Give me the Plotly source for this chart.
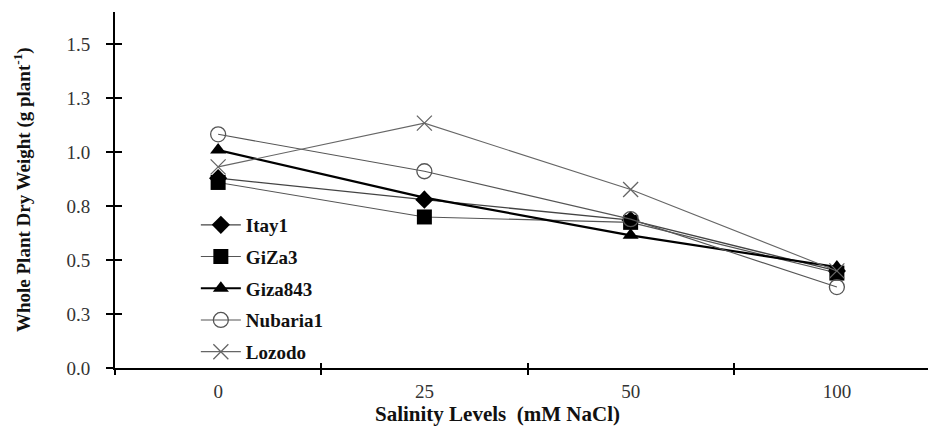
import plotly.graph_objects as go

salinity = ["0", "25", "50", "100"]
itay1 = [0.88, 0.78, 0.685, 0.45]
giza3 = [0.86, 0.70, 0.675, 0.44]
giza843 = [1.01, 0.79, 0.615, 0.468]
nubaria1 = [1.083, 0.912, 0.69, 0.375]
lozodo = [0.932, 1.135, 0.827, 0.45]

ytick_vals = [0.0, 0.25, 0.5, 0.75, 1.0, 1.25, 1.5]
ytick_text = ["0.0", "0.3", "0.5", "0.8", "1.0", "1.3", "1.5"]

FONT = "Liberation Serif"

series = [
    ("Itay1", itay1, dict(symbol="diamond", size=14, color="black"), dict(color="#444", width=1.3)),
    ("GiZa3", giza3, dict(symbol="square", size=15, color="black"), dict(color="#555", width=1.1)),
    ("Giza843", giza843, dict(symbol="triangle-up", size=14, color="black"), dict(color="black", width=2.2)),
    ("Nubaria1", nubaria1, dict(symbol="circle-open", size=15, color="#555", line=dict(width=1.3, color="#555")), dict(color="#555", width=1.1)),
    ("Lozodo", lozodo, dict(symbol="x-thin-open", size=15, color="#666", line=dict(width=1.3, color="#666")), dict(color="#666", width=1.1)),
]

fig = go.Figure()
for i, (name, vals, mk, ln) in enumerate(series):
    fig.add_trace(go.Scatter(
        x=salinity, y=vals, name=name, mode="lines+markers",
        marker=mk, line=ln, legendgroup=f"g{i}",
    ))

# page has an 8px body margin; margins compensate so the plot sits where the reference has it
fig.update_layout(
    width=936, height=430,
    margin=dict(l=107, r=4, t=4, b=70),
    plot_bgcolor="white", paper_bgcolor="white",
    font=dict(family=FONT, color="#222", size=17),
    showlegend=True,
    legend=dict(
        x=0.098, y=0.455, xanchor="left", yanchor="top",
        font=dict(family=FONT, size=19, color="#111", weight="bold"),
        bgcolor="rgba(0,0,0,0)", tracegroupgap=4,
        itemwidth=40,
    ),
    xaxis=dict(
        type="category", categoryorder="array", categoryarray=salinity,
        range=[-0.5, 3.5], showgrid=False, zeroline=False,
        showline=True, linecolor="black", linewidth=2,
        ticks="outside", tickson="boundaries", ticklen=5, tickwidth=2, tickcolor="black",
        tickfont=dict(family=FONT, size=19, color="#333"),
        ticklabelstandoff=5,
    ),
    xaxis2=dict(
        overlaying="x", range=[-0.5, 3.5], showgrid=False, zeroline=False,
        showline=False, ticks="inside", tickvals=[0.5, 1.5, 2.5], ticklen=5,
        tickwidth=2, tickcolor="black", showticklabels=False, side="bottom",
    ),
    yaxis=dict(
        range=[0, 1.65], showgrid=False, zeroline=False,
        showline=True, linecolor="black", linewidth=2,
        tickvals=ytick_vals, ticktext=ytick_text,
        ticks="outside", ticklen=7, tickwidth=2, tickcolor="black",
        tickfont=dict(family=FONT, size=19, color="#333"),
        ticklabelstandoff=12,
    ),
    yaxis2=dict(
        overlaying="y", range=[0, 1.65], showgrid=False, zeroline=False,
        showline=False, ticks="inside", tickvals=ytick_vals, ticklen=7,
        tickwidth=2, tickcolor="black", showticklabels=False, side="left",
    ),
    annotations=[
        dict(text="<b>Whole Plant Dry Weight (g plant<sup>-1</sup>)</b>",
             xref="paper", yref="paper", x=-0.1127, y=0.5, textangle=-90,
             showarrow=False, font=dict(family=FONT, size=19, color="#111"),
             xanchor="center", yanchor="middle"),
        dict(text="<b>Salinity Levels  (mM NaCl)</b>",
             xref="paper", yref="paper", x=0.464, y=-0.129,
             showarrow=False, font=dict(family=FONT, size=21, color="#111"),
             xanchor="center", yanchor="middle"),
    ],
)
# invisible trace so the overlay axes (crossing tick marks) are drawn
fig.add_trace(go.Scatter(x=[0], y=[0], xaxis="x2", yaxis="y2", mode="markers",
                         marker=dict(opacity=0), showlegend=False, hoverinfo="skip"))

fig.write_html("out.html")
